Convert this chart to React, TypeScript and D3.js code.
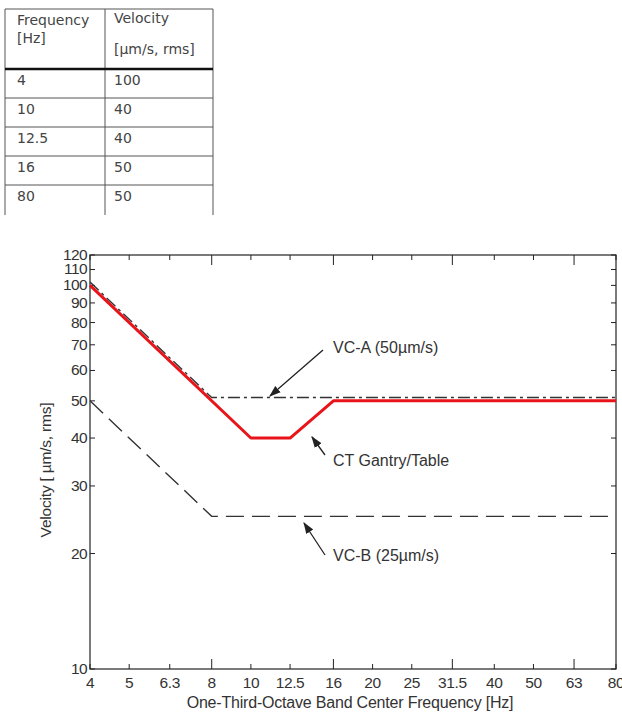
import React from "react";
import * as d3 from "d3";

// ---- data ----
const ctFreq = [4, 10, 12.5, 16, 80];
const ctVel = [100, 40, 40, 50, 50];
const vcaFreq = [4, 8, 80];
const vcaVel = [102, 51, 51];
const vcbFreq = [4, 8, 80];
const vcbVel = [50, 25, 25];
const xTicks = [4, 5, 6.3, 8, 10, 12.5, 16, 20, 25, 31.5, 40, 50, 63, 80];
const xMajor = [8, 16, 31.5, 63];
const yTicks = [10, 20, 30, 40, 50, 60, 70, 80, 90, 100, 110, 120];

const W = 622, H = 715;
const L = 90, R = 616, T = 255, B = 669;

export default function App() {
  const x = d3.scaleLog().domain([4, 80]).range([L, R]);
  const y = d3.scaleLog().domain([10, 120]).range([B, T]);
  const line = d3.line<[number, number]>().x(d => x(d[0])).y(d => y(d[1]));
  const ct = line(ctFreq.map((f, i) => [f, ctVel[i]]));
  const vca = line(vcaFreq.map((f, i) => [f, vcaVel[i]]));
  const vcb = line(vcbFreq.map((f, i) => [f, vcbVel[i]]));
  const font = "'Liberation Sans', Arial, sans-serif";
  const tfont = "'DejaVu Sans', Verdana, sans-serif";
  const txt = "#333";

  const rowLines = [98, 127, 156, 185];
  const rowBase = [85, 114, 143, 172, 201];

  return (
    <>
      <style>{"body{margin:0}"}</style>
      <svg width={W} height={H} style={{ display: "block", background: "#fff" }}>
        <defs>
          <marker id="ah" viewBox="0 0 10 10" refX="9" refY="5" markerWidth="9" markerHeight="9" orient="auto">
            <path d="M0,1.5 L10,5 L0,8.5 z" fill="#222" />
          </marker>
        </defs>
        {/* table */}
        <g fontFamily={tfont} fontSize={14} fill="#444">
          <line x1={5} x2={213} y1={9} y2={9} stroke="#555" strokeWidth={1} />
          <line x1={5} x2={5} y1={9} y2={215} stroke="#555" strokeWidth={1} />
          <line x1={105} x2={105} y1={9} y2={215} stroke="#555" strokeWidth={1} />
          <line x1={213} x2={213} y1={9} y2={215} stroke="#555" strokeWidth={1} />
          <line x1={5} x2={213} y1={69} y2={69} stroke="#111" strokeWidth={2.5} />
          {rowLines.map(r => (
            <line key={r} x1={5} x2={213} y1={r} y2={r} stroke="#555" strokeWidth={1} />
          ))}
          <text x={17} y={25}>Frequency</text>
          <text x={17} y={43}>[Hz]</text>
          <text x={114} y={23}>Velocity</text>
          <text x={114} y={54}>[µm/s, rms]</text>
          {ctFreq.map((f, i) => (
            <g key={i}>
              <text x={17} y={rowBase[i]}>{String(f)}</text>
              <text x={114} y={rowBase[i]}>{String(ctVel[i])}</text>
            </g>
          ))}
        </g>

        {/* plot box */}
        <rect x={L} y={T} width={R - L} height={B - T} fill="none" stroke="#222" strokeWidth={1.2} />
        {/* x ticks */}
        {xTicks.map(t => {
          const len = xMajor.includes(t) ? 10 : 5;
          return (
            <g key={t}>
              <line x1={x(t)} x2={x(t)} y1={B} y2={B - len} stroke="#222" />
              <line x1={x(t)} x2={x(t)} y1={T} y2={T + len} stroke="#222" />
              <text x={x(t)} y={B + 19} textAnchor="middle" fontFamily={font} fontSize={15.5} fill={txt} letterSpacing={-0.4}>{String(t)}</text>
            </g>
          );
        })}
        {/* y ticks */}
        {yTicks.map(t => (
          <g key={t}>
            <line x1={L} x2={L + 5} y1={y(t)} y2={y(t)} stroke="#222" />
            <line x1={R} x2={R - 5} y1={y(t)} y2={y(t)} stroke="#222" />
            <text x={L - 3} y={y(t) + 5} textAnchor="end" fontFamily={font} fontSize={15.5} fill={txt} letterSpacing={-0.6}>{String(t)}</text>
          </g>
        ))}
        {/* axis labels */}
        <text x={350} y={708} textAnchor="middle" fontFamily={font} fontSize={16} fill={txt} letterSpacing={-0.2}>One-Third-Octave Band Center Frequency [Hz]</text>
        <text transform="translate(51,470) rotate(-90)" textAnchor="middle" fontFamily={font} fontSize={15.5} fill={txt} letterSpacing={-0.2}>Velocity [ µm/s, rms]</text>

        {/* curves */}
        <path d={vcb ?? ""} fill="none" stroke="#333" strokeWidth={1.4} strokeDasharray="18,8" />
        <path d={vca ?? ""} fill="none" stroke="#333" strokeWidth={1.4} strokeDasharray="12,4,3,4" />
        <path d={ct ?? ""} fill="none" stroke="#e8141a" strokeWidth={3} strokeLinejoin="round" />

        {/* annotations */}
        <g fontFamily={font} fontSize={16} fill={txt}>
          <line x1={323} y1={350} x2={270} y2={396} stroke="#222" strokeWidth={1.3} markerEnd="url(#ah)" />
          <text x={333} y={353}>VC-A (50µm/s)</text>
          <line x1={325} y1={455} x2={312} y2={437} stroke="#222" strokeWidth={1.3} markerEnd="url(#ah)" />
          <text x={333} y={466}>CT Gantry/Table</text>
          <line x1={325} y1={555} x2={304} y2={523} stroke="#222" strokeWidth={1.3} markerEnd="url(#ah)" />
          <text x={333} y={561}>VC-B (25µm/s)</text>
        </g>
      </svg>
    </>
  );
}
